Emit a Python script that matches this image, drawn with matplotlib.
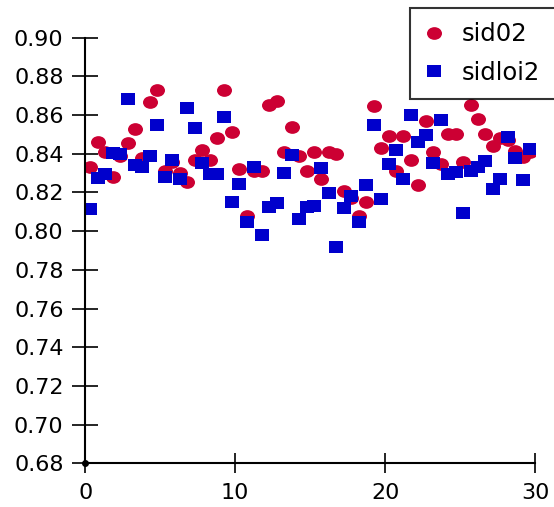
import numpy as np
import matplotlib
matplotlib.use("Agg")
import matplotlib.pyplot as plt
from matplotlib.path import Path
from matplotlib.transforms import Affine2D


# --- Data ---
n_points = 60
x_start, x_step = 0.33, 0.4975

sid02 = [
    0.833, 0.846, 0.841, 0.828, 0.839, 0.8455, 0.853, 0.838, 0.867, 0.873,
    0.831, 0.836, 0.830, 0.8255, 0.837, 0.842, 0.837, 0.848, 0.873, 0.851,
    0.832, 0.808, 0.831, 0.831, 0.865, 0.8675, 0.841, 0.854, 0.839, 0.831,
    0.841, 0.827, 0.841, 0.840, 0.821, 0.817, 0.808, 0.815, 0.8645, 0.843,
    0.849, 0.831, 0.849, 0.837, 0.824, 0.857, 0.841, 0.8345, 0.850, 0.850,
    0.8355, 0.865, 0.858, 0.850, 0.844, 0.848, 0.847, 0.8415, 0.8385, 0.841,
]
sidloi2 = [
    0.8114, 0.8276, 0.8293, 0.8405, 0.8398, 0.8682, 0.8341, 0.8331, 0.8389, 0.8548,
    0.8281, 0.8369, 0.8271, 0.8637, 0.8534, 0.8353, 0.8293, 0.8293, 0.8591, 0.8152,
    0.8245, 0.8049, 0.8333, 0.7980, 0.8126, 0.8147, 0.8302, 0.8393, 0.8064, 0.8126,
    0.8131, 0.8327, 0.8198, 0.7919, 0.8118, 0.8183, 0.8049, 0.8238, 0.8548, 0.8166,
    0.8347, 0.8419, 0.8269, 0.8600, 0.8462, 0.8496, 0.8353, 0.8574, 0.8295, 0.8307,
    0.8095, 0.8310, 0.8330, 0.8362, 0.8216, 0.8269, 0.8488, 0.8376, 0.8264, 0.8424,
]
labels = ["sid02", "sidloi2"]

x = x_start + x_step * np.arange(n_points)

x_lim = (0, 30)
y_lim = (0.68, 0.90)
x_ticks = [0, 10, 20, 30]
y_ticks = np.round(np.arange(0.68, 0.9001, 0.02), 2)


# --- Markers: the reference is a bit wider than tall ---
aspect = 1.18
ellipse = Affine2D().scale(aspect, 1.0).transform_path(Path.unit_circle())
rect = Path([(-aspect, -1), (aspect, -1), (aspect, 1), (-aspect, 1), (-aspect, -1)],
            [Path.MOVETO, Path.LINETO, Path.LINETO, Path.LINETO, Path.CLOSEPOLY])


# --- Plot ---
plt.rcParams["font.family"] = ["DejaVu Sans"]

fig = plt.figure(figsize=(5.54, 5.07), dpi=100)
ax = fig.add_axes([0.154, 0.0858, 0.8117, 0.840])

ax.plot(x, sid02, linestyle="none", marker=ellipse, markersize=10.8,
        color="#cc0033", markeredgewidth=0, label=labels[0])
ax.plot(x, sidloi2, linestyle="none", marker=rect, markersize=10.0,
        color="#0000cc", markeredgewidth=0, label=labels[1])

# small dot at the axis origin
ax.plot(x_lim[0], y_lim[0], "o", color="black", markersize=4, clip_on=False, zorder=5)

ax.set_xlim(*x_lim)
ax.set_ylim(*y_lim)
ax.set_xticks(x_ticks)
ax.set_yticks(y_ticks)
ax.set_yticklabels([f"{v:.2f}" for v in y_ticks])

for side in ["top", "right"]:
    ax.spines[side].set_visible(False)
for side in ["left", "bottom"]:
    ax.spines[side].set_linewidth(1.5)

ax.tick_params(axis="y", direction="inout", length=18.4, width=1.2, pad=6.5, labelsize=16)
ax.tick_params(axis="x", direction="inout", length=14.8, width=1.2, pad=6.5, labelsize=16)

# legend box runs off the right edge of the figure, as in the reference
leg = fig.legend(loc="upper left", bbox_to_anchor=(0.740, 0.70, 0.30, 0.2836),
                 mode="expand", fontsize=17.5,
                 numpoints=1, frameon=True, fancybox=False, borderpad=0.57,
                 handlelength=0.85, handletextpad=0.72, labelspacing=0.61,
                 borderaxespad=0)
leg.get_frame().set_edgecolor("black")
leg.get_frame().set_linewidth(1.5)

fig.savefig("out.png", dpi=100)
